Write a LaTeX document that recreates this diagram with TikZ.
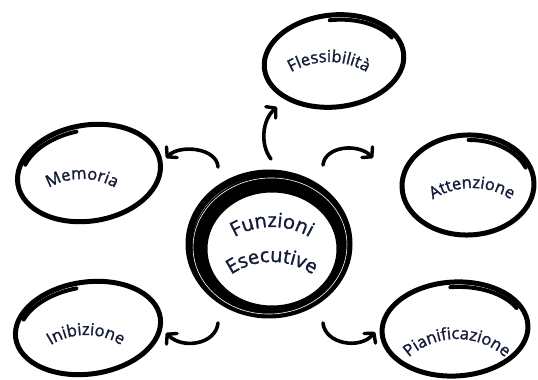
\documentclass[tikz,border=0pt]{standalone}
\usepackage{fontspec}
\setmainfont[FakeBold=1.4]{Open Sans}
\usetikzlibrary{arrows.meta,decorations.text,calc}
\definecolor{ink}{RGB}{20,28,58}
\tikzset{
  brush/.style={line width=5pt, line cap=round, line join=round},
  ring/.style={line width=7pt, line cap=round},
  flow/.style={line width=3.6pt, line cap=round,
    -{Straight Barb[length=6.5pt,width=15pt,line width=3.4pt,round]}},
}
% curved label: centre x, baseline top y, radius, font size, text
\newcommand{\arclabel}[5]{%
  \path[decorate,decoration={text along path,text align=center,
    text={|\fontsize{#4}{#4}\selectfont\color{ink}|#5}}]
    ($(#1,#2)+(0,-#3)+(150:#3)$) arc[start angle=150,end angle=30,radius=#3];
}
% sketched ellipse: centre x, y, rx, ry, tilt, extra stroke start/end angle
\newcommand{\sketchoval}[7]{%
  \begin{scope}[shift={(#1,#2)},rotate=#5]
    \draw[brush] (0,0) ellipse[x radius=#3, y radius=#4];
    \draw[brush,line width=4pt] (#6:#3-4 and #4-5) arc[start angle=#6,end angle=#7,x radius=#3-4,y radius=#4-5];
  \end{scope}
}
\begin{document}
\begin{tikzpicture}[x=1pt,y=1pt]
\fill[white] (0,0) rectangle (538,380);
\useasboundingbox (0,0) rectangle (538,380);

% central hub, several overlapping strokes
\begin{scope}
  \draw[ring] (269,136) ellipse[x radius=80, y radius=71];
  \draw[ring,rotate around={6:(270,134)}] (270,134) ellipse[x radius=75, y radius=67];
  \draw[ring,rotate around={-5:(271,132)}] (271,132) ellipse[x radius=71, y radius=63];
  \draw[ring] (272,131) ellipse[x radius=68, y radius=60];
  \draw[white,line width=0.6pt,rotate around={4:(270,134)}] (270,134) ellipse[x radius=77, y radius=68];
\end{scope}
\arclabel{272}{153}{74}{20}{Funzioni}
\arclabel{272}{118}{72}{20}{Esecutive}

% outer ovals
\sketchoval{334}{319}{70}{46}{6}{25}{90}
\sketchoval{89}{207}{72}{48}{9}{95}{155}
\sketchoval{468}{195}{66}{50}{2}{20}{88}
\sketchoval{88}{52}{73}{46}{8}{95}{155}
\sketchoval{455}{51}{73}{47}{3}{25}{92}

\arclabel{329}{318}{75}{16.5}{Flessibilità}
\arclabel{82}{201}{66}{16.5}{Memoria}
\arclabel{472}{192}{72}{16.5}{Attenzione}
\arclabel{86}{45}{66}{16.5}{Inibizione}
\arclabel{457}{41}{72}{16.5}{Pianificazione}

% arrow ends
\coordinate (fT) at (271,221); \coordinate (fH) at (277,273);
\coordinate (mT) at (218,213); \coordinate (mH) at (166,222);
\coordinate (aT) at (323,215); \coordinate (aH) at (373,222);
\coordinate (iT) at (218,57);  \coordinate (iH) at (166,47);
\coordinate (pT) at (323,57);  \coordinate (pH) at (375,48);

\draw[flow] (fT) .. controls (260,235) and (262,260) .. (fH);
\draw[flow] (mT) .. controls (217,232) and (180,236) .. (mH);
\draw[flow] (aT) .. controls (325,234) and (358,237) .. (aH);
\draw[flow] (iT) .. controls (216,36) and (183,30) .. (iH);
\draw[flow] (pT) .. controls (325,36) and (360,30) .. (pH);
\end{tikzpicture}
\end{document}
